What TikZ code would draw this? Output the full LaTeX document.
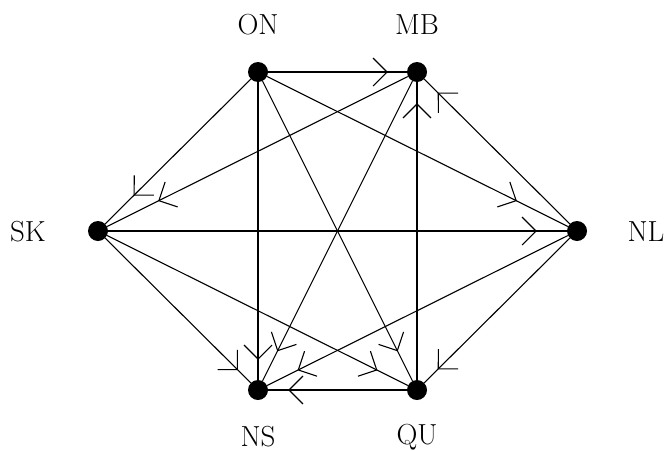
\documentclass[tikz,border=0pt]{standalone}
\usetikzlibrary{arrows.meta,decorations.markings}
\begin{document}
\begin{tikzpicture}[x=1pt,y=-1pt,
  dot/.style={circle,fill=black,draw=none,minimum size=20pt,inner sep=0pt},
  lbl/.style={inner sep=0pt,font=\fontsize{29}{35}\selectfont},
  edge/.style={line width=1.1pt,draw=black},
  arr/.style={edge,postaction={decorate},decoration={markings,
    mark=at position -#1pt with {\arrow[line width=1.1pt]{Straight Barb[length=14pt,width=28pt]}}}}
]
\useasboundingbox (0,0) rectangle (668,450);
\node[dot] (ON) at (258,72) {};
\node[dot] (MB) at (417,72) {};
\node[dot] (SK) at (98,231) {};
\node[dot] (NL) at (577,231) {};
\node[dot] (NS) at (258,390) {};
\node[dot] (QU) at (417,390) {};
\node[lbl] (lON) at (258,25) {ON};
\node[lbl] (lMB) at (417,25) {MB};
\node[lbl] (lSK) at (28,232) {SK};
\node[lbl] (lNL) at (646,232) {NL};
\node[lbl] (lNS) at (258,437) {NS};
\node[lbl] (lQU) at (417,437) {QU};
\draw[arr=19] (ON) -- (MB);
\draw[arr=57] (ON) -- (NL);
\draw[arr=33] (ON) -- (QU);
\draw[arr=20] (ON) -- (NS);
\draw[arr=40] (ON) -- (SK);
\draw[arr=57] (MB) -- (SK);
\draw[arr=33] (MB) -- (NS);
\draw[arr=21] (QU) -- (MB);
\draw[arr=19] (NL) -- (MB);
\draw[arr=30] (SK) -- (NL);
\draw[arr=18] (SK) -- (NS);
\draw[arr=34] (SK) -- (QU);
\draw[arr=34] (NL) -- (NS);
\draw[arr=19] (NL) -- (QU);
\draw[arr=20] (QU) -- (NS);
\end{tikzpicture}
\end{document}
